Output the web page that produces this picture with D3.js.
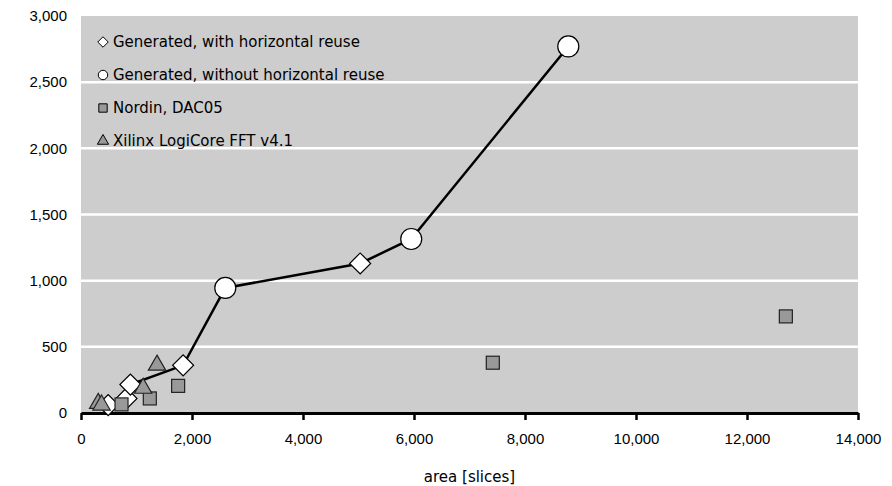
<!DOCTYPE html>
<html>
<head>
<meta charset="utf-8">
<script src="https://cdn.jsdelivr.net/npm/d3@7"></script>
<style>
  body { margin: 0; background: #fff; }
  svg { display: block; font-family: "DejaVu Sans", Verdana, sans-serif; }
</style>
</head>
<body>
<div id="chart"></div>
<script>
// series values [area in slices, value]
const withReuse = [[490, 60], [820, 110], [890, 215], [1840, 360], [5030, 1130]];
const withoutReuse = [[2600, 945], [5950, 1315], [8780, 2770]];
const nordin = [[730, 65], [1240, 110], [1750, 205], [7420, 380], [12700, 730]];
const xilinx = [[310, 73], [370, 60], [1120, 187], [1370, 362]];

const seriesNames = [
  "Generated, with horizontal reuse",
  "Generated, without horizontal reuse",
  "Nordin, DAC05",
  "Xilinx LogiCore FFT v4.1"
];

const xTicks = [0, 2000, 4000, 6000, 8000, 10000, 12000, 14000];
const yTicks = [0, 500, 1000, 1500, 2000, 2500, 3000];
const xTitle = "area [slices]";

// chart layout
const width = 892, height = 486;
const margin = {top: 16, right: 34, bottom: 73, left: 81};
const innerW = width - margin.left - margin.right;
const innerH = height - margin.top - margin.bottom;

const svg = d3.select("#chart").append("svg")
  .attr("width", width)
  .attr("height", height);

const g = svg.append("g")
  .attr("transform", "translate(" + margin.left + "," + margin.top + ")");

const x = d3.scaleLinear().domain([0, 14000]).range([0, innerW]);
const y = d3.scaleLinear().domain([0, 3000]).range([innerH, 0]);

// plot background
g.append("rect")
  .attr("width", innerW)
  .attr("height", innerH)
  .attr("fill", "#cdcdcd");

// y axis (white ticks) + gridlines
const yAxis = g.append("g")
  .call(d3.axisLeft(y).tickValues(yTicks).tickSize(4).tickFormat(d3.format(",")));
yAxis.select(".domain").remove();
yAxis.selectAll(".tick line").attr("stroke", "#fff").attr("stroke-width", 2);
yAxis.selectAll(".tick text")
  .attr("x", -14)
  .attr("fill", "#000")
  .style("font-size", "15px");

g.append("g").selectAll("line")
  .data(yTicks.filter(d => d > 0 && d < 3000))
  .join("line")
  .attr("x1", 0).attr("x2", innerW)
  .attr("y1", d => y(d)).attr("y2", d => y(d))
  .attr("stroke", "#fff")
  .attr("stroke-width", 2.5);

// x axis
const xAxis = g.append("g")
  .attr("transform", "translate(0," + innerH + ")")
  .call(d3.axisBottom(x).tickValues(xTicks).tickSize(7).tickSizeOuter(0).tickFormat(d3.format(",")));
xAxis.select(".domain").attr("stroke", "#000").attr("stroke-width", 3);
xAxis.selectAll(".tick line").attr("stroke", "#000").attr("stroke-width", 2.5);
xAxis.selectAll(".tick text")
  .attr("y", 20)
  .attr("fill", "#000")
  .style("font-size", "15px");

svg.append("text")
  .attr("x", margin.left + innerW / 2)
  .attr("y", 482)
  .attr("text-anchor", "middle")
  .style("font-size", "15px")
  .text(xTitle);

// connecting line through all generated designs
const generated = withReuse.concat(withoutReuse).sort((a, b) => a[0] - b[0]);
const line = d3.line()
  .x(d => x(d[0]))
  .y(d => y(d[1]));

g.append("path")
  .datum(generated)
  .attr("fill", "none")
  .attr("stroke", "#000")
  .attr("stroke-width", 2.5)
  .attr("d", line);

// markers
const diamond = d3.symbol().type(d3.symbolSquare).size(220);
g.selectAll(".diamond")
  .data(withReuse)
  .join("path")
  .attr("class", "diamond")
  .attr("d", diamond)
  .attr("transform", d => "translate(" + x(d[0]) + "," + y(d[1]) + ") rotate(45)")
  .attr("fill", "#fff")
  .attr("stroke", "#000")
  .attr("stroke-width", 1.2);

g.selectAll(".circle")
  .data(withoutReuse)
  .join("circle")
  .attr("class", "circle")
  .attr("cx", d => x(d[0]))
  .attr("cy", d => y(d[1]))
  .attr("r", 10.5)
  .attr("fill", "#fff")
  .attr("stroke", "#000")
  .attr("stroke-width", 1.2);

g.selectAll(".square")
  .data(nordin)
  .join("rect")
  .attr("class", "square")
  .attr("x", d => x(d[0]) - 6.5)
  .attr("y", d => y(d[1]) - 6.5)
  .attr("width", 13)
  .attr("height", 13)
  .attr("fill", "#999")
  .attr("stroke", "#222")
  .attr("stroke-width", 1.2);

const tri = d3.symbol().type(d3.symbolTriangle).size(130);
g.selectAll(".tri")
  .data(xilinx)
  .join("path")
  .attr("class", "tri")
  .attr("d", tri)
  .attr("transform", d => "translate(" + x(d[0]) + "," + y(d[1]) + ")")
  .attr("fill", "#999")
  .attr("stroke", "#222")
  .attr("stroke-width", 1.2);

// legend
const legend = g.append("g").attr("transform", "translate(22,26)");
const legendSymbols = [
  d3.symbol().type(d3.symbolDiamond2).size(70),
  d3.symbol().type(d3.symbolCircle).size(70),
  d3.symbol().type(d3.symbolSquare).size(70),
  d3.symbol().type(d3.symbolTriangle).size(55)
];
const legendFill = ["#fff", "#fff", "#999", "#999"];

const items = legend.selectAll("g")
  .data(seriesNames)
  .join("g")
  .attr("transform", (d, i) => "translate(0," + i * 33 + ")");

items.append("path")
  .attr("d", (d, i) => legendSymbols[i]())
  .attr("fill", (d, i) => legendFill[i])
  .attr("stroke", "#000")
  .attr("stroke-width", 1);

items.append("text")
  .attr("x", 10)
  .attr("dy", "0.35em")
  .style("font-size", "15px")
  .text(d => d);
</script>
</body>
</html>
